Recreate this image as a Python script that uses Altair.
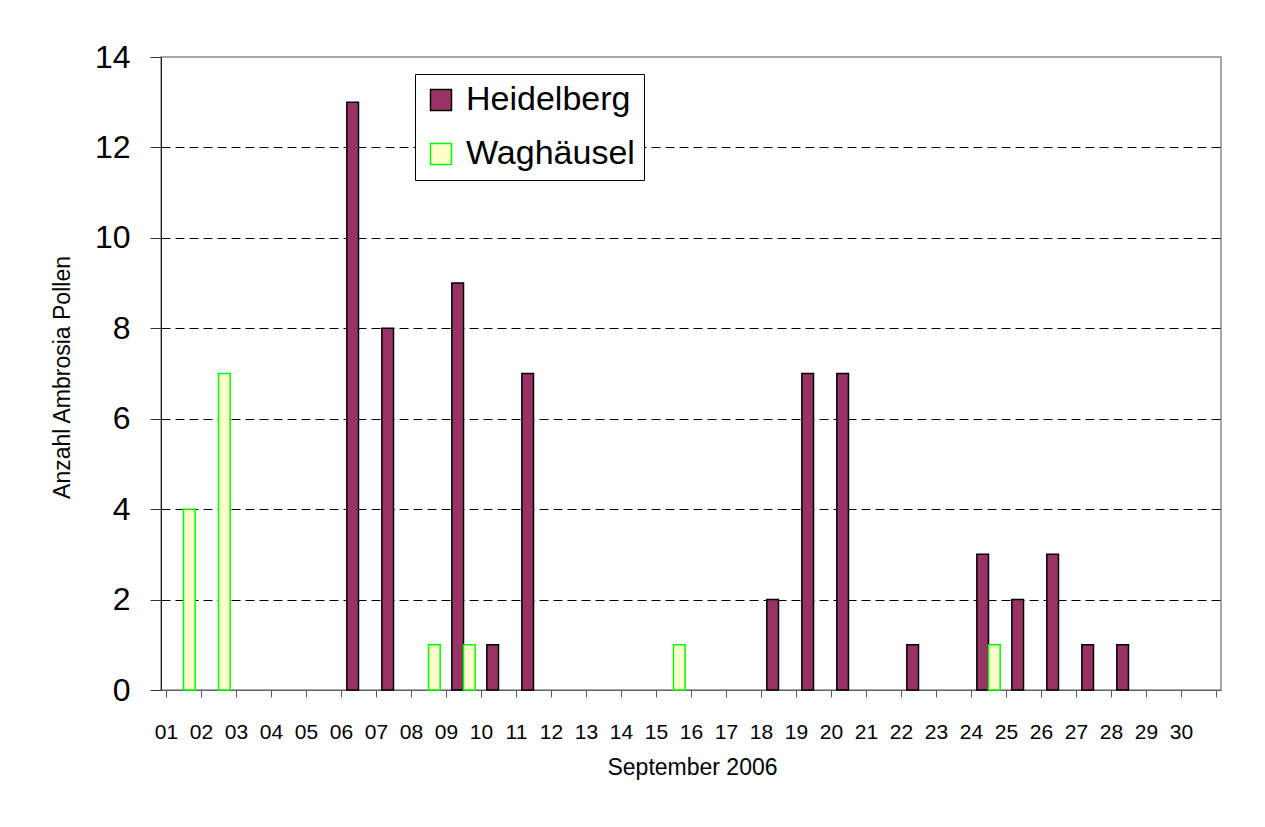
import altair as alt
import pandas as pd

days = list(range(1, 31))
tick_values = list(range(1, 32))

heidelberg_days = [6, 7, 9, 10, 11, 18, 19, 20, 22, 24, 25, 26, 27, 28]
heidelberg_vals = [13, 8, 9, 1, 7, 2, 7, 7, 1, 3, 2, 3, 1, 1]

waghaeusel_days = [1, 2, 8, 9, 15, 24]
waghaeusel_vals = [4, 7, 1, 1, 1, 1]

series = ["Heidelberg", "Waghäusel"]
fill_colors = ["#993366", "#FFFFCC"]
stroke_colors = ["#000000", "#00FF00"]
y_ticks = [0, 2, 4, 6, 8, 10, 12, 14]

rows = []
for d, v in zip(heidelberg_days, heidelberg_vals):
    rows.append({"day": d, "series": "Heidelberg", "value": v, "slot": 0})
for d, v in zip(waghaeusel_days, waghaeusel_vals):
    rows.append({"day": d, "series": "Waghäusel", "value": v, "slot": 1})
df = pd.DataFrame(rows)

FONT = "Liberation Sans"

legend = alt.Legend(
    title=None,
    orient="none",
    legendX=254,
    legendY=17,
    symbolType="square",
    symbolSize=440,
    symbolStrokeWidth=1.5,
    labelFontSize=34,
    labelFont=FONT,
    labelColor="#000000",
    labelLimit=400,
    labelOffset=8,
    rowPadding=20,
    padding=9,
    fillColor="#FFFFFF",
    strokeColor="#000000",
    cornerRadius=0,
)

bars = alt.Chart(df).transform_calculate(
    x0="datum.day + 0.5 + (datum.slot - 1) / 3",
    x1="datum.day + 0.5 + datum.slot / 3",
).mark_bar(strokeWidth=1.5, cornerRadius=0, orient="vertical").encode(
    x=alt.X(
        "x0:Q",
        scale=alt.Scale(domain=[1, 31], nice=False, zero=False),
        axis=alt.Axis(
            values=tick_values,
            labelExpr="datum.value > 30 ? '' : (datum.value < 10 ? '0' + datum.value : '' + datum.value)",
            title="September 2006",
            titleFont=FONT,
            titleFontSize=23,
            titleFontWeight="normal",
            titleColor="#000000",
            titleX=531,
            titleY=77,
            titleBaseline="middle",
            titleAlign="center",
            labelFont=FONT,
            labelFontSize=21,
            labelColor="#000000",
            labelAngle=0,
            labelPadding=24,
            labelOverlap=False,
            labelFlush=False,
            tickSize=7,
            tickColor="#555555",
            domainColor="#666666",
            grid=False,
        ),
    ),
    x2="x1:Q",
    y=alt.Y(
        "value:Q",
        scale=alt.Scale(domain=[0, 14], nice=False),
        axis=alt.Axis(
            values=y_ticks,
            title="Anzahl Ambrosia Pollen",
            titleFont=FONT,
            titleFontSize=23,
            titleFontWeight="normal",
            titleColor="#000000",
            titleX=-99,
            titleY=320,
            titleAngle=-90,
            titleAlign="center",
            titleBaseline="middle",
            labelFont=FONT,
            labelFontSize=32,
            labelColor="#000000",
            labelPadding=20,
            tickSize=11,
            tickColor="#333333",
            domainColor="#222222",
            grid=True,
            gridColor="#000000",
            gridDash=[9, 5],
            gridWidth=1,
            gridOpacity=alt.condition("datum.value == 0 || datum.value == 14", alt.value(0), alt.value(1)),
        ),
    ),
    y2=alt.datum(0),
    fill=alt.Fill("series:N", scale=alt.Scale(domain=series, range=fill_colors), legend=legend),
    stroke=alt.Stroke("series:N", scale=alt.Scale(domain=series, range=stroke_colors), legend=legend),
)

chart = bars.properties(
    width=1060,
    height=633,
    autosize=alt.AutoSizeParams(type="none"),
    padding={"left": 153, "top": 49, "right": 36, "bottom": 129},
    background="#FFFFFF",
).configure_view(
    stroke="#8C8C8C",
    strokeWidth=1.5,
)

chart.save("out.html", embed_options={"renderer": "svg", "actions": False})
